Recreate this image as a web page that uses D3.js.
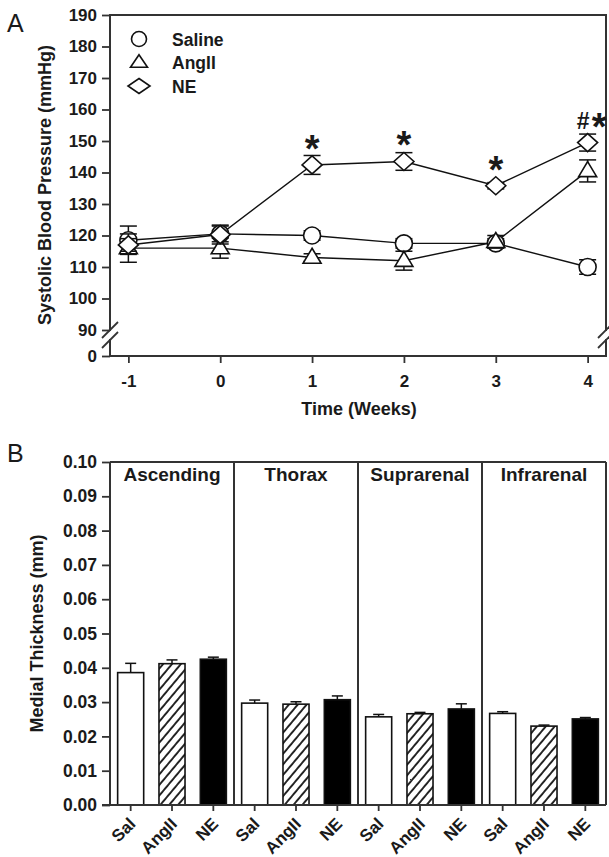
<!DOCTYPE html>
<html>
<head>
<meta charset="utf-8">
<script src="https://cdn.jsdelivr.net/npm/d3@7"></script>
<style>
  body { margin: 0; background: #fff; }
  svg { display: block; }
  text { font-family: Arial, "Liberation Sans", Helvetica, sans-serif; fill: #1a1a1a; }
</style>
</head>
<body>
<svg id="fig" width="609" height="857"></svg>
<script>
// ---------- Panel A: systolic blood pressure by week ----------
const weeks = [-1, 0, 1, 2, 3, 4];
const salineSBP = [118.5, 120.5, 120, 117.5, 117.5, 110];
const salineSEM = [4.5, 2.5, 1.5, 1.5, 1.5, 2.3];
const angSBP = [116, 116, 113, 112, 118, 140.5];
const angSEM = [4.5, 3.2, 1.2, 3, 2, 3.5];
const neSBP = [117, 120.3, 142.4, 143.5, 135.8, 149.5];
const neSEM = [2, 3, 3, 2.8, 1, 2.7];
const sigMarks = ["", "", "*", "*", "*", "#*"];
const sbpTicks = [0, 90, 100, 110, 120, 130, 140, 150, 160, 170, 180, 190];
const seriesNames = ["Saline", "AngII", "NE"];

// ---------- Panel B: medial thickness by aortic region ----------
const regions = ["Ascending", "Thorax", "Suprarenal", "Infrarenal"];
const groups = ["Sal", "AngII", "NE"];
const salThick = [0.0386, 0.0297, 0.0257, 0.0267];
const angThick = [0.0412, 0.0294, 0.0266, 0.0230];
const neThick = [0.0425, 0.0307, 0.0280, 0.0251];
const salThickSEM = [0.0027, 0.0009, 0.0007, 0.0005];
const angThickSEM = [0.0011, 0.0007, 0.0004, 0.0003];
const neThickSEM = [0.0006, 0.0011, 0.0015, 0.0004];
const thickTicks = [0, 0.01, 0.02, 0.03, 0.04, 0.05, 0.06, 0.07, 0.08, 0.09, 0.10];

const svg = d3.select("#fig");
const frameColor = "#333";
const bold = "bold";

// ===== Panel A =====
const A = { left: 110, right: 606, top: 15, bottom: 356 };
const xA = d3.scaleLinear().domain([-1.2, 4.2]).range([A.left, A.right]);
// broken axis: 0 sits just under the 90 tick
const yA = d3.scaleLinear().domain([0, 90, 190]).range([A.bottom, 330, A.top]);

const gA = svg.append("g");

gA.append("text").attr("x", 7).attr("y", 32).attr("font-size", 25).text("A");

// y axis
const yAxisA = gA.append("g").attr("transform", `translate(${A.left},0)`)
  .call(d3.axisLeft(yA).tickValues(sbpTicks).tickSize(8).tickPadding(5).tickFormat(d => String(d)));
yAxisA.select(".domain").remove();
yAxisA.selectAll(".tick line").attr("stroke", frameColor).attr("stroke-width", 1.8);
yAxisA.selectAll(".tick text").attr("font-size", 17).attr("font-weight", bold).attr("fill", "#1a1a1a");

// x axis (hyphen-minus for negative week)
const xAxisA = gA.append("g").attr("transform", `translate(0,${A.bottom})`)
  .call(d3.axisBottom(xA).tickValues(weeks).tickSize(7).tickPadding(12).tickFormat(d => String(d)));
xAxisA.select(".domain").remove();
xAxisA.selectAll(".tick line").attr("stroke", frameColor).attr("stroke-width", 1.8);
xAxisA.selectAll(".tick text").attr("font-size", 17).attr("font-weight", bold).attr("fill", "#1a1a1a");

// frame with break marks on both vertical sides
const breakTop = 330, breakBot = 340;
const frameA = [
  [[A.left, A.top], [A.left, breakTop]],
  [[A.left, breakBot], [A.left, A.bottom]],
  [[A.right, A.top], [A.right, breakTop]],
  [[A.right, breakBot], [A.right, A.bottom]],
  [[A.left, A.top], [A.right, A.top]],
  [[A.left, A.bottom], [A.right, A.bottom]]
];
gA.selectAll("line.frame").data(frameA).join("line")
  .attr("x1", d => d[0][0]).attr("y1", d => d[0][1])
  .attr("x2", d => d[1][0]).attr("y2", d => d[1][1])
  .attr("stroke", frameColor).attr("stroke-width", 2).attr("stroke-linecap", "square");
[A.left, A.right].forEach(x => {
  [breakTop, breakBot].forEach(y => {
    gA.append("line")
      .attr("x1", x - 8).attr("y1", y + 8).attr("x2", x + 8).attr("y2", y - 8)
      .attr("stroke", frameColor).attr("stroke-width", 1.8);
  });
});

// axis titles
gA.append("text")
  .attr("transform", `translate(51,${(43 + 327) / 2}) rotate(-90)`)
  .attr("text-anchor", "middle").attr("font-size", 18).attr("font-weight", bold)
  .text("Systolic Blood Pressure (mmHg)");
gA.append("text").attr("x", 359).attr("y", 415).attr("text-anchor", "middle")
  .attr("font-size", 18).attr("font-weight", bold).text("Time (Weeks)");

// marker shapes
function markerPath(kind, s) {
  if (kind === "Saline") {
    return d3.symbol(d3.symbolCircle, Math.PI * s.r * s.r)();
  }
  if (kind === "AngII") {
    const w = s.tw, h = s.th;
    return `M0,${-h * 0.62}L${w},${h * 0.38}L${-w},${h * 0.38}Z`;
  }
  return `M0,${-s.dh}L${s.dw},0L0,${s.dh}L${-s.dw},0Z`;
}
const plotShape = { r: 8.5, tw: 9, th: 15, dw: 10, dh: 9 };
const legShape = { r: 7.5, tw: 8.5, th: 12.5, dw: 11, dh: 7.5 };

const seriesData = [
  { name: "Saline", mean: salineSBP, sem: salineSEM },
  { name: "AngII", mean: angSBP, sem: angSEM },
  { name: "NE", mean: neSBP, sem: neSEM }
];

const line = d3.line().x(d => xA(d.w)).y(d => yA(d.v));
seriesData.forEach(s => {
  const pts = weeks.map((w, i) => ({ w, v: s.mean[i], e: s.sem[i] }));
  gA.append("path").datum(pts).attr("d", line)
    .attr("fill", "none").attr("stroke", "#111").attr("stroke-width", 1.4);
});

seriesData.forEach(s => {
  const pts = weeks.map((w, i) => ({ w, v: s.mean[i], e: s.sem[i] }));
  const g = gA.append("g");
  const eb = g.selectAll("g.eb").data(pts).join("g");
  eb.append("line")
    .attr("x1", d => xA(d.w)).attr("x2", d => xA(d.w))
    .attr("y1", d => yA(d.v + d.e)).attr("y2", d => yA(d.v - d.e))
    .attr("stroke", "#111").attr("stroke-width", 1.5);
  [1, -1].forEach(sign => {
    eb.append("line")
      .attr("x1", d => xA(d.w) - 8.5).attr("x2", d => xA(d.w) + 8.5)
      .attr("y1", d => yA(d.v + sign * d.e)).attr("y2", d => yA(d.v + sign * d.e))
      .attr("stroke", "#111").attr("stroke-width", 1.5);
  });
  g.selectAll("path.mk").data(pts).join("path")
    .attr("transform", d => `translate(${xA(d.w)},${yA(d.v)})`)
    .attr("d", markerPath(s.name, plotShape))
    .attr("fill", "#fff").attr("stroke", "#111").attr("stroke-width", 1.6);
});

// significance marks above the NE series
weeks.forEach((w, i) => {
  const mark = sigMarks[i];
  if (!mark) return;
  const cy = yA(neSBP[i]);
  const chars = mark.split("");
  let x = xA(w) - (chars.length > 1 ? 11 : 0);
  chars.forEach(c => {
    if (c === "#") {
      gA.append("text").attr("x", x).attr("y", cy - 14)
        .attr("font-size", 23).attr("font-weight", bold).attr("fill", "#111").text(c);
      x += 15;
    } else {
      gA.append("text").attr("x", x)
        .attr("y", cy - 3)
        .attr("text-anchor", chars.length > 1 ? "start" : "middle")
        .attr("font-size", 38).attr("font-weight", bold).attr("fill", "#111").text(c);
    }
  });
});

// legend
const legRows = [39, 62.5, 86];
seriesNames.forEach((n, i) => {
  gA.append("path").attr("transform", `translate(139,${legRows[i]})`)
    .attr("d", markerPath(n, legShape))
    .attr("fill", "#fff").attr("stroke", "#111").attr("stroke-width", 1.6);
  gA.append("text").attr("x", 172).attr("y", legRows[i] + 6.5)
    .attr("font-size", 17.5).attr("font-weight", bold).text(n);
});

// ===== Panel B =====
const B = { left: 110, right: 606, top: 462, bottom: 805 };
const xB = d3.scaleBand().domain(regions).range([B.left, B.right]);
const xG = d3.scaleBand().domain(groups).range([0, xB.bandwidth()])
  .paddingInner(0.37).paddingOuter(0.185);
const yB = d3.scaleLinear().domain([0, 0.10]).range([B.bottom, B.top]);

const gB = svg.append("g");
gB.append("text").attr("x", 7).attr("y", 462).attr("font-size", 25).text("B");

const defs = svg.append("defs");
defs.append("pattern").attr("id", "hatch")
  .attr("patternUnits", "userSpaceOnUse").attr("width", 6.8).attr("height", 6.8)
  .attr("patternTransform", "rotate(40)")
  .append("line").attr("x1", 1).attr("y1", 0).attr("x2", 1).attr("y2", 6.8)
  .attr("stroke", "#111").attr("stroke-width", 1.8);

const yAxisB = gB.append("g").attr("transform", `translate(${B.left},0)`)
  .call(d3.axisLeft(yB).tickValues(thickTicks).tickSize(8).tickPadding(5).tickFormat(d3.format(".2f")));
yAxisB.select(".domain").remove();
yAxisB.selectAll(".tick line").attr("stroke", frameColor).attr("stroke-width", 1.8);
yAxisB.selectAll(".tick text").attr("font-size", 17.5).attr("font-weight", bold).attr("fill", "#1a1a1a");

gB.append("text")
  .attr("transform", `translate(43,${(B.top + B.bottom) / 2}) rotate(-90)`)
  .attr("text-anchor", "middle").attr("font-size", 18).attr("font-weight", bold)
  .text("Medial Thickness (mm)");

const barRows = [];
regions.forEach((r, ri) => {
  barRows.push({ region: r, group: "Sal", v: salThick[ri], e: salThickSEM[ri], fill: "#fff" });
  barRows.push({ region: r, group: "AngII", v: angThick[ri], e: angThickSEM[ri], fill: "url(#hatch)" });
  barRows.push({ region: r, group: "NE", v: neThick[ri], e: neThickSEM[ri], fill: "#000" });
});
const bx = d => xB(d.region) + xG(d.group);
const bw = xG.bandwidth();

// error bars (upper only)
const ebB = gB.selectAll("g.ebB").data(barRows).join("g");
ebB.append("line")
  .attr("x1", d => bx(d) + bw / 2).attr("x2", d => bx(d) + bw / 2)
  .attr("y1", d => yB(d.v)).attr("y2", d => yB(d.v + d.e))
  .attr("stroke", "#111").attr("stroke-width", 1.5);
ebB.append("line")
  .attr("x1", d => bx(d) + bw / 2 - 5.5).attr("x2", d => bx(d) + bw / 2 + 5.5)
  .attr("y1", d => yB(d.v + d.e)).attr("y2", d => yB(d.v + d.e))
  .attr("stroke", "#111").attr("stroke-width", 1.5);

gB.selectAll("rect.bar").data(barRows).join("rect")
  .attr("x", d => bx(d)).attr("width", bw)
  .attr("y", d => yB(d.v)).attr("height", d => yB(0) - yB(d.v))
  .attr("fill", d => d.fill).attr("stroke", "#111").attr("stroke-width", 1.6);

// frame and region dividers
const dividers = regions.map(r => xB(r)).concat([B.right]);
gB.selectAll("line.div").data(dividers).join("line")
  .attr("x1", d => d).attr("x2", d => d).attr("y1", B.top).attr("y2", B.bottom)
  .attr("stroke", frameColor).attr("stroke-width", 2);
gB.append("line").attr("x1", B.left).attr("x2", B.right).attr("y1", B.top).attr("y2", B.top)
  .attr("stroke", frameColor).attr("stroke-width", 2);
gB.append("line").attr("x1", B.left - 8).attr("x2", B.right).attr("y1", B.bottom).attr("y2", B.bottom)
  .attr("stroke", frameColor).attr("stroke-width", 2);

// x ticks and rotated group labels
gB.selectAll("line.xt").data(barRows).join("line")
  .attr("x1", d => bx(d) + bw / 2).attr("x2", d => bx(d) + bw / 2)
  .attr("y1", B.bottom).attr("y2", B.bottom + 6)
  .attr("stroke", frameColor).attr("stroke-width", 1.8);
gB.selectAll("text.xl").data(barRows).join("text")
  .attr("transform", d => `translate(${bx(d) + bw / 2 + 6},${B.bottom + 20}) rotate(-45)`)
  .attr("text-anchor", "end").attr("font-size", 17).attr("font-weight", bold)
  .text(d => d.group);

// region titles
gB.selectAll("text.rt").data(regions).join("text")
  .attr("x", d => xB(d) + xB.bandwidth() / 2).attr("y", 481)
  .attr("text-anchor", "middle").attr("font-size", 19).attr("font-weight", bold)
  .text(d => d);
</script>
</body>
</html>
